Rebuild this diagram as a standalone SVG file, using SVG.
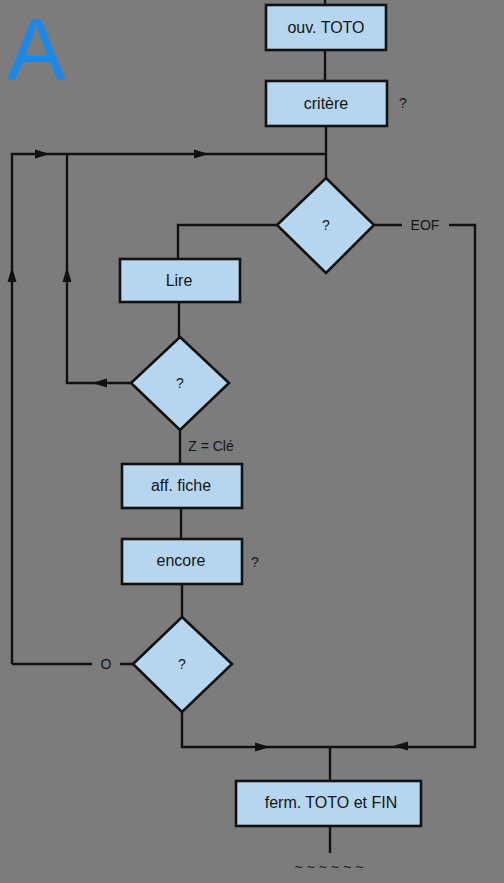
<svg xmlns="http://www.w3.org/2000/svg" width="504" height="883" viewBox="0 0 504 883">
<style>
.bg{fill:#7c7c7c}
.box{fill:#b6d6f0;stroke:#111;stroke-width:2.6}
.ln{fill:none;stroke:#111;stroke-width:2.4}
.t{font-family:"Liberation Sans",Arial,sans-serif;font-size:16px;fill:#151515;text-anchor:middle}
.q{font-family:"Liberation Sans",Arial,sans-serif;font-size:14px;fill:#151515;text-anchor:middle}
.ar{fill:#111}
</style>
<defs>
<path id="arr" d="M0,0 L-15,-4.5 L-15,4.5 Z"/>
</defs>
<rect class="bg" x="0" y="0" width="504" height="883"/>
<text x="7" y="80" style="font-family:'Liberation Sans',Arial,sans-serif;font-size:88px;fill:#1a88e8">A</text>

<g id="connectors">
<path class="ln" d="M325,0 V5"/>
<path class="ln" d="M325,50 V81"/>
<path class="ln" d="M326,126 V178"/>
<path class="ln" d="M12,664 V154 H326"/>
<path class="ln" d="M67,384 V154"/>
<path class="ln" d="M277,225 H178 V259"/>
<path class="ln" d="M179,302 V337"/>
<path class="ln" d="M131,383 H67"/>
<path class="ln" d="M180,430 V464"/>
<path class="ln" d="M181,508 V539"/>
<path class="ln" d="M182,584 V617"/>
<path class="ln" d="M133,664 H120 M92,664 H12"/>
<path class="ln" d="M182,712 V747 H475 V225 H449 M402,225 H374"/>
<path class="ln" d="M330,747 V781"/>
<path class="ln" d="M330,826 V853"/>
<use href="#arr" class="ar" transform="translate(50,154)"/>
<use href="#arr" class="ar" transform="translate(209,154)"/>
<use href="#arr" class="ar" transform="translate(12,267) rotate(-90)"/>
<use href="#arr" class="ar" transform="translate(67,267) rotate(-90)"/>
<use href="#arr" class="ar" transform="translate(92,383) rotate(180)"/>
<use href="#arr" class="ar" transform="translate(270,747)"/>
<use href="#arr" class="ar" transform="translate(393,746) rotate(180)"/>
<text class="q" x="425" y="230">EOF</text>
<text class="q" x="211" y="451">Z = Clé</text>
<text class="q" x="106" y="669">O</text>
</g>

<g id="ouv"><rect class="box" x="266" y="5" width="120" height="45"/><text class="t" x="326" y="33">ouv. TOTO</text></g>
<g id="critere"><rect class="box" x="266" y="81" width="121" height="45"/><text class="t" x="326" y="109">critère</text><text class="q" x="403" y="108">?</text></g>
<g id="d1"><polygon class="box" points="326,178 374,225 326,273 277,225"/><text class="q" x="326" y="230">?</text></g>
<g id="lire"><rect class="box" x="120" y="259" width="120" height="43"/><text class="t" x="179" y="286">Lire</text></g>
<g id="d2"><polygon class="box" points="180,337 229,383 180,430 131,383"/><text class="q" x="180" y="388">?</text></g>
<g id="aff"><rect class="box" x="122" y="464" width="120" height="44"/><text class="t" x="181" y="491">aff. fiche</text></g>
<g id="encore"><rect class="box" x="122" y="539" width="120" height="45"/><text class="t" x="181" y="566">encore</text><text class="q" x="255" y="567">?</text></g>
<g id="d3"><polygon class="box" points="182,617 232,664 182,712 133,664"/><text class="q" x="182" y="669">?</text></g>
<g id="ferm"><rect class="box" x="236" y="781" width="185" height="45"/><text class="t" x="331" y="808">ferm. TOTO et FIN</text></g>
<text class="q" x="331" y="872" style="letter-spacing:4px">~~~~~~</text>
</svg>
